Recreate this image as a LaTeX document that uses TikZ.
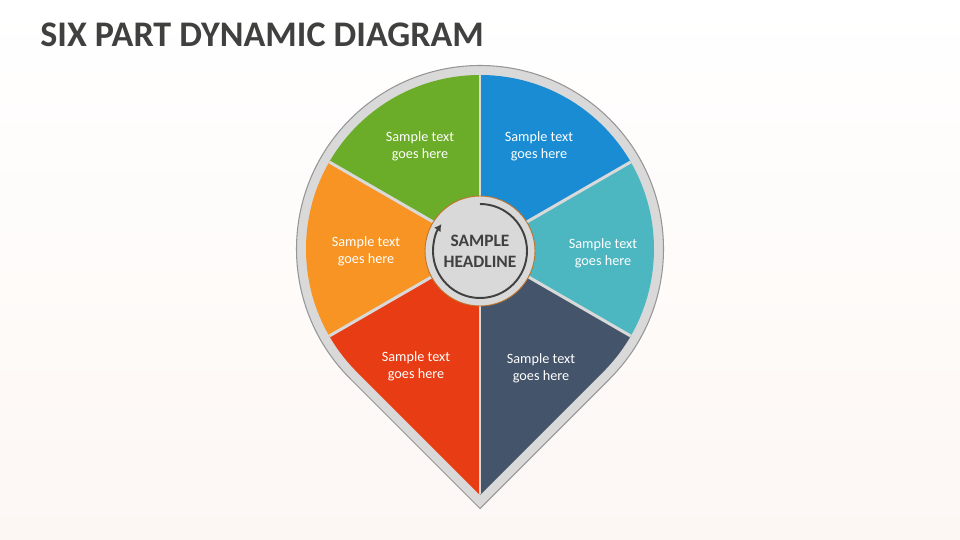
\documentclass[tikz,border=0pt]{standalone}
\usepackage{fontspec}
\setmainfont{Carlito}
\usepackage{xcolor}
\usetikzlibrary{arrows.meta,calc}
\definecolor{titlegray}{RGB}{64,64,64}
\definecolor{pingray}{RGB}{217,217,217}
\definecolor{pinedge}{RGB}{150,150,150}
\definecolor{sgreen}{RGB}{107,172,40}
\definecolor{sblue}{RGB}{26,140,212}
\definecolor{steal}{RGB}{77,183,193}
\definecolor{sorange}{RGB}{247,148,36}
\definecolor{sred}{RGB}{232,60,20}
\definecolor{sslate}{RGB}{68,84,106}
\definecolor{ringbrown}{RGB}{191,113,40}
\definecolor{bgpink}{RGB}{253,247,244}
\tikzset{
  sampletext/.style={text=white, align=center, inner sep=0pt,
                     font=\fontsize{8.1}{9.7}\selectfont},
  divider/.style={draw=pingray, line width=1.7pt},
  hub/.style={circle, fill=pingray, draw=ringbrown, line width=0.5pt,
              minimum size=2.2cm, inner sep=0pt, align=center, text=titlegray,
              font=\fontsize{9.9}{12}\selectfont\bfseries},
  cycarrow/.style={-{Latex[length=4pt,width=4.5pt]}, draw=titlegray, line width=1.1pt}
}
\newcommand\pinpath[1]{(C) ++(0,{-1.41421*#1}) -- ++(45:#1)
  arc[start angle=-45, end angle=225, radius=#1] -- cycle}

\begin{document}
\begin{tikzpicture}[x=0.02cm, y=0.02cm]
  \useasboundingbox (0,0) rectangle (960,540);
  \shade[top color=white, bottom color=bgpink] (0,0) rectangle (960,540);
  \coordinate (C) at (480,291);
  \node[anchor=base west, inner sep=0pt, text=titlegray,
        font=\fontsize{20.5}{25}\selectfont\bfseries] (title) at (40,493) {SIX PART DYNAMIC DIAGRAM};
  \fill[pingray, draw=pinedge, line width=0.6pt] \pinpath{183.5};
  \begin{scope}
    \clip \pinpath{174};
    \foreach \a/\col in {90/sgreen,150/sorange,210/sred,270/sslate,330/steal,30/sblue}
      \fill[\col] (C) -- ($(C)+(\a:400)$) -- ($(C)+(\a+30:400)$) -- ($(C)+(\a+60:400)$) -- cycle;
    \foreach \a in {30,90,...,330}
      \draw[divider] (C) -- ($(C)+(\a:400)$);
  \end{scope}
  \node[sampletext] (green) at (420,394) {Sample text\\goes here};
  \node[sampletext] (blue) at (539,394) {Sample text\\goes here};
  \node[sampletext] (orange) at (366,289) {Sample text\\goes here};
  \node[sampletext] (teal) at (603,287) {Sample text\\goes here};
  \node[sampletext] (red) at (416,174) {Sample text\\goes here};
  \node[sampletext] (slate) at (541,172) {Sample text\\goes here};
  \node[hub] (hub) at (480,289) {SAMPLE\\HEADLINE};
  \draw[cycarrow] ($(hub.center)+(90:47)$) arc[start angle=90, end angle=-215, radius=47];
\end{tikzpicture}
\end{document}
